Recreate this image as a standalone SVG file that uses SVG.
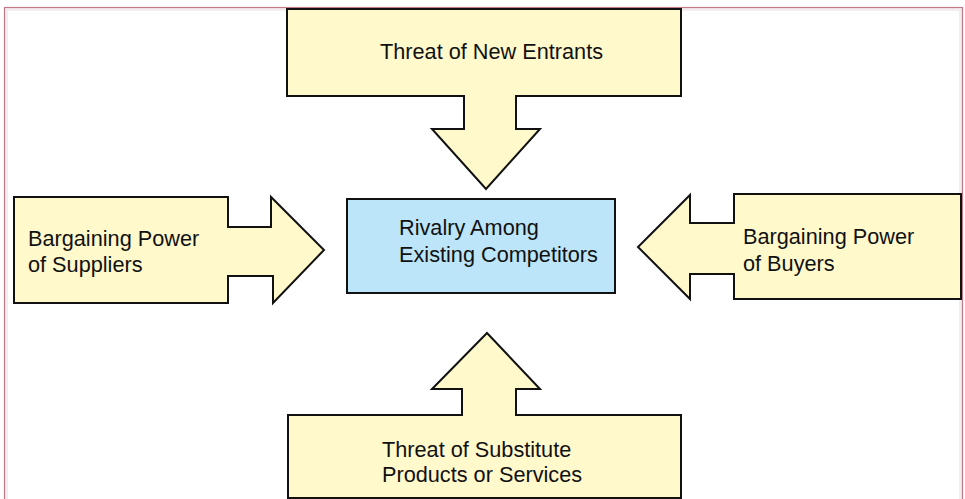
<svg xmlns="http://www.w3.org/2000/svg" width="965" height="499" viewBox="0 0 965 499">
<style>
.force{fill:#fff9cc;stroke:#111;stroke-width:2;stroke-linejoin:miter}
.core{fill:#bce5f9;stroke:#111;stroke-width:2}
.lbl{font-family:"Liberation Sans",Arial,sans-serif;font-size:21.7px;fill:#111}
</style>
<rect width="965" height="499" fill="#fff"/>
<g id="frame">
<rect x="6.5" y="9.5" width="954" height="500" fill="none" stroke="#f3edef" stroke-width="3"/>
<rect x="4.5" y="7.5" width="958" height="500" fill="none" stroke="#c27a88" stroke-width="1.2"/>
</g>
<g id="connectors"/>
<g id="new-entrants">
<polygon class="force" points="287,9 681,9 681,96 516,96 516,129 540,129 486,189 432,129 464,129 464,96 287,96"/>
<text class="lbl" x="380" y="59">Threat of New Entrants</text>
</g>
<g id="suppliers">
<polygon class="force" points="14,197 228,197 228,227 271,227 271,197 324,250 273,303 273,276 228,276 228,303 14,303"/>
<text class="lbl" x="28" y="246">Bargaining Power</text>
<text class="lbl" x="28" y="272">of Suppliers</text>
</g>
<g id="rivalry">
<rect class="core" x="347" y="199" width="268" height="94"/>
<text class="lbl" x="399" y="235">Rivalry Among</text>
<text class="lbl" x="399" y="262">Existing Competitors</text>
</g>
<g id="buyers">
<polygon class="force" points="961,194 961,299 734,299 734,274 690,274 690,299 638,247 690,195 690,223 734,223 734,194"/>
<text class="lbl" x="743" y="244">Bargaining  Power</text>
<text class="lbl" x="743" y="271">of Buyers</text>
</g>
<g id="substitutes">
<polygon class="force" points="288,415 462,415 462,389 432,389 487,333 540,389 516,389 516,415 681,415 681,498 288,498"/>
<text class="lbl" x="382" y="457">Threat of Substitute</text>
<text class="lbl" x="382" y="482">Products or Services</text>
</g>
</svg>
